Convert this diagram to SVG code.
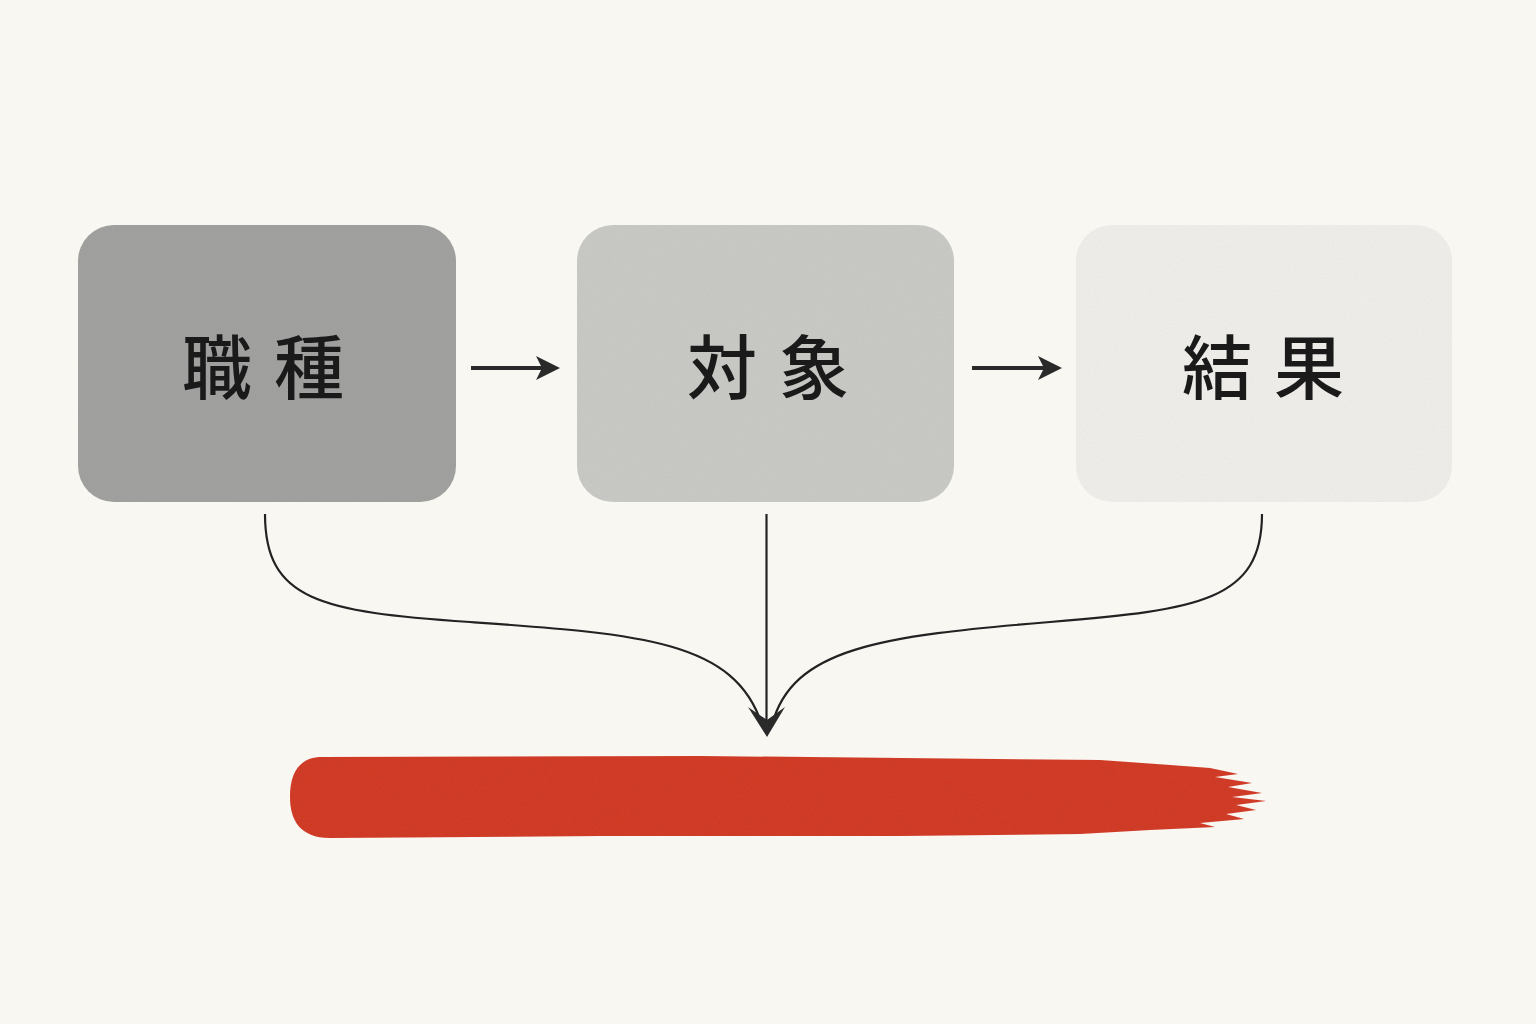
<svg xmlns="http://www.w3.org/2000/svg" width="1536" height="1024" viewBox="0 0 1536 1024">
<defs>
<style>
.node-label{font-family:"Noto Sans CJK JP","Noto Sans CJK SC",sans-serif;font-size:70px;font-weight:500;fill:#1a1a1a;text-anchor:middle;letter-spacing:22px}
.conn{fill:none;stroke:#222;stroke-width:2.2}
.flow{fill:none;stroke:#2a2a2a;stroke-width:4}
</style>
<filter id="grain" x="0" y="0" width="100%" height="100%">
<feTurbulence type="fractalNoise" baseFrequency="0.9" numOctaves="2" seed="3" result="n"/>
<feColorMatrix in="n" type="matrix" values="0 0 0 0 0.2  0 0 0 0 0.2  0 0 0 0 0.2  0 0 0 0.12 0" result="g"/>
<feComposite in="g" in2="SourceGraphic" operator="in" result="gi"/>
<feMerge><feMergeNode in="SourceGraphic"/><feMergeNode in="gi"/></feMerge>
</filter>
<marker id="head" viewBox="0 0 12 12" refX="10" refY="6" markerWidth="6" markerHeight="6" orient="auto" markerUnits="strokeWidth">
<path d="M0,0 L12,6 L0,12 L3,6 Z" fill="#2a2a2a"/>
</marker>
</defs>
<rect width="1536" height="1024" fill="#f9f7f2"/>
<g id="node-shokushu">
<rect x="78" y="225" width="378" height="277" rx="36" fill="#a2a2a0" filter="url(#grain)"/>
<text class="node-label" x="274" y="394">職種</text>
</g>
<g id="node-taisho">
<rect x="577" y="225" width="377" height="277" rx="36" fill="#cacac7" filter="url(#grain)"/>
<text class="node-label" x="779" y="394">対象</text>
</g>
<g id="node-kekka">
<rect x="1076" y="225" width="376" height="277" rx="36" fill="#f1f0ec" filter="url(#grain)"/>
<text class="node-label" x="1274" y="394">結果</text>
</g>
<g id="connectors">
<line class="flow" x1="471" y1="368" x2="556" y2="368" marker-end="url(#head)"/>
<line class="flow" x1="972" y1="368" x2="1058" y2="368" marker-end="url(#head)"/>
<path class="conn" d="M265,514 C265,600 320,612 470,622 C640,634 735,640 762,725"/>
<path class="conn" d="M1262,514 C1262,600 1200,610 1050,622 C880,636 792,648 772,725"/>
<line class="conn" x1="766.5" y1="514" x2="766.5" y2="728" stroke-width="3"/>
<path d="M748,707 L767,737 L785,707 L767,720 Z" fill="#2a2a2a"/>
</g>
<g id="red-stroke">
<path d="M322,757 L700,756 L1100,760 L1170,765 L1210,768 L1238,774 L1215,777 L1252,783 L1228,787 L1262,793 L1232,797 L1266,801 L1236,805 L1256,810 L1226,814 L1244,819 L1200,823 L1215,827 L1150,830 L1080,834 L900,836 L600,836 L330,838 C300,838 290,820 290,797 C290,772 300,757 322,757 Z" fill="#d3361f" filter="url(#grain)"/>
</g>
</svg>
